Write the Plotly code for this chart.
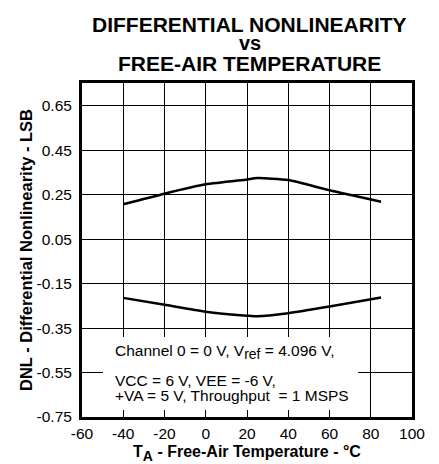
import plotly.graph_objects as go

temp = [-40, -20, 0, 20, 25, 40, 60, 85]
dnl_pos = [0.207, 0.255, 0.297, 0.319, 0.325, 0.316, 0.270, 0.219]
dnl_neg = [-0.214, -0.245, -0.276, -0.294, -0.297, -0.283, -0.253, -0.212]

y_ticks = [0.65, 0.45, 0.25, 0.05, -0.15, -0.35, -0.55, -0.75]
y_ticktext = ["0.65", "0.45", "0.25", "0.05", "-0.15", "-0.35", "-0.55", "-0.75"]
x_ticks = [-60, -40, -20, 0, 20, 40, 60, 80, 100]
x_ticktext = ["-60", "-40", "-20", "0", "20", "40", "60", "80", "100"]

FONT = "Liberation Sans, Arial, sans-serif"
L, R, T, B = 82, 27, 83, 47
PW, PH = 439 - L - R, 464 - T - B

fig = go.Figure()
for ys in (dnl_pos, dnl_neg):
    fig.add_trace(go.Scatter(x=temp, y=ys, mode="lines",
                             line=dict(color="black", width=2.5, shape="spline", smoothing=0.6),
                             showlegend=False, hoverinfo="skip"))

fig.add_shape(type="rect", xref="x", yref="y", x0=-49.8, x1=73.8, y0=-0.719, y1=-0.39,
              fillcolor="white", line=dict(width=0), layer="above")

notes = [
    ("Channel 0 = 0 V, V<sub><span style='font-size:14px'>ref</span></sub> = 4.096 V,", 352),
    ("VCC = 6 V, VEE = -6 V,", 380),
    ("+VA = 5 V, Throughput  = 1 MSPS", 395),
]
for txt, ypx in notes:
    fig.add_annotation(text=txt, xref="paper", yref="paper",
                       x=(113 - L) / PW, y=(464 - B - ypx) / PH,
                       xanchor="left", yanchor="middle", showarrow=False,
                       font=dict(family=FONT, size=15.5, color="black"))

titles = [("<b>DIFFERENTIAL NONLINEARITY</b>", 24, 21),
          ("<b>vs</b>", 43, 20),
          ("<b>FREE-AIR TEMPERATURE</b>", 64, 21)]
for txt, ypx, sz in titles:
    fig.add_annotation(text=txt, xref="paper", yref="paper",
                       x=(250 - L) / PW, y=(464 - B - ypx) / PH,
                       xanchor="center", yanchor="middle", showarrow=False,
                       font=dict(family=FONT, size=sz, color="black"))

fig.update_layout(
    width=439, height=464,
    margin=dict(l=L, r=R, t=T, b=B, autoexpand=False),
    paper_bgcolor="white", plot_bgcolor="white",
    font=dict(family=FONT, color="black"),
    xaxis=dict(range=[-60, 100], tickvals=x_ticks, ticktext=x_ticktext, showgrid=True,
               gridcolor="black", gridwidth=1, automargin=False,
               showline=True, linecolor="black", linewidth=3, mirror=True, zeroline=False,
               ticks="", tickfont=dict(size=15.5, family=FONT),
               title=dict(text="<b>T<sub><span style='font-size:14px'>A</span></sub> - Free-Air Temperature - °C</b>",
                          font=dict(size=16, family=FONT), standoff=6)),
    yaxis=dict(range=[-0.75, 0.753], tickvals=y_ticks, ticktext=y_ticktext, showgrid=True,
               gridcolor="black", gridwidth=1, automargin=False,
               showline=True, linecolor="black", linewidth=3, mirror=True, zeroline=False,
               ticks="", tickfont=dict(size=15.5, family=FONT), ticklabelstandoff=4,
               title=dict(text="<b>DNL - Differential Nonlinearity - LSB</b>",
                          font=dict(size=16.5, family=FONT), standoff=0)),
)

fig.write_html("out.html", config={"displayModeBar": False},
               post_script="document.body.style.margin='0';")
